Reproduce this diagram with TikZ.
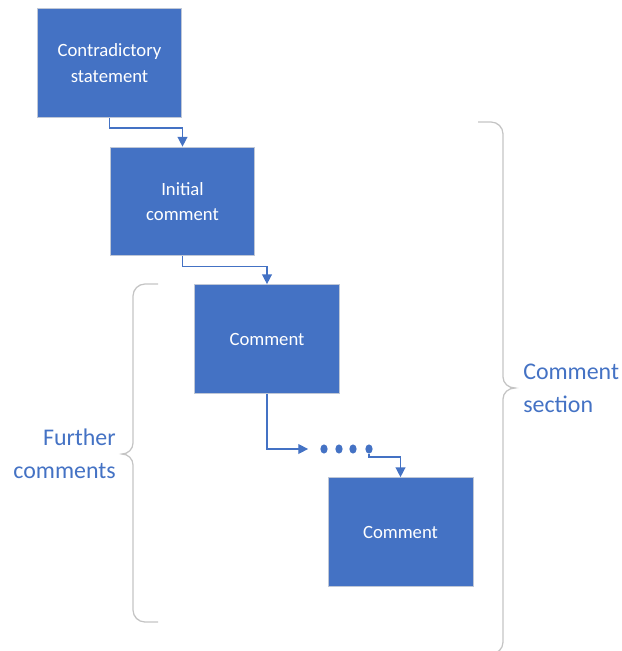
\documentclass[tikz,border=0pt]{standalone}
\usepackage{fontspec}
\setmainfont{Carlito}
\usetikzlibrary{positioning,arrows.meta,shapes.geometric}

\definecolor{boxblue}{HTML}{4472C4}
\definecolor{boxedge}{HTML}{BFC7D6}
\definecolor{bracegray}{HTML}{C4C4C4}

\tikzset{
	box/.style={rectangle, fill=boxblue, draw=boxedge, line width=0.6pt, minimum width=3.62cm, minimum height=2.72cm, inner sep=0, text=white, align=center, font=\fontsize{13.3}{18}\selectfont},
	conn/.style={draw=boxblue, line width=1pt, -{Triangle[length=7pt,width=7pt]}},
	dot/.style={ellipse, fill=boxblue, minimum width=0.18cm, minimum height=0.23cm, inner sep=0},
	brace/.style={draw=bracegray, line width=0.9pt},
	lbl/.style={text=boxblue, inner sep=0, font=\fontsize{17}{23.5}\selectfont}
}

\begin{document}
\begin{tikzpicture}[x=0.025cm, y=-0.025cm]
	
	\useasboundingbox (0,0) rectangle (622,651);
	
	% statement and comments
	\node [box] (stmt) at (109.5,63) {Contradictory\\statement};
	\node [box] (init) at (182.5,201.5) {Initial\\comment};
	\node [box] (cmt1) at (267,339) {Comment};
	\node [box] (cmt2) at (400.5,532) {Comment};
	
	% dots
	\foreach \i/\x in {1/324,2/339,3/353,4/369}
		\node [dot] (d\i) at (\x,449) {};
	
	% connectors
	\draw [conn] (stmt.south) -- ++(0,10) -| (init.north);
	\draw [conn] (init.south) -- ++(0,10) -| (cmt1.north);
	\draw [conn, shorten >=0.3cm] (cmt1.south) |- (d1.west);
	\draw [conn] (d4.south) -- ++(0,3) -| (cmt2.north);
	
	% further comments brace
	\coordinate (ltip) at (122,454);
	\draw [brace] (158,284) -- (145,284) to[out=180,in=90] (133,296) -- (133,443) to[out=-90,in=0] (ltip) to[out=0,in=90] (133,465) -- (133,610) to[out=-90,in=180] (145,622) -- (158,622);
	\node [lbl, align=right, left=0.15cm of ltip] (further) {Further\\comments};
	
	% comment section brace
	\coordinate (rtip) at (515,388);
	\begin{scope}
		\clip (0,0) rectangle (622,651);
		\draw [brace] (478,122) -- (491,122) to[out=0,in=90] (503,134) -- (503,377) to[out=-90,in=180] (rtip) to[out=180,in=90] (503,399) -- (503,642) to[out=-90,in=0] (491,654) -- (478,654);
	\end{scope}
	\node [lbl, align=left, right=0.2cm of rtip] (section) {Comment\\section};
	
\end{tikzpicture}
\end{document}
